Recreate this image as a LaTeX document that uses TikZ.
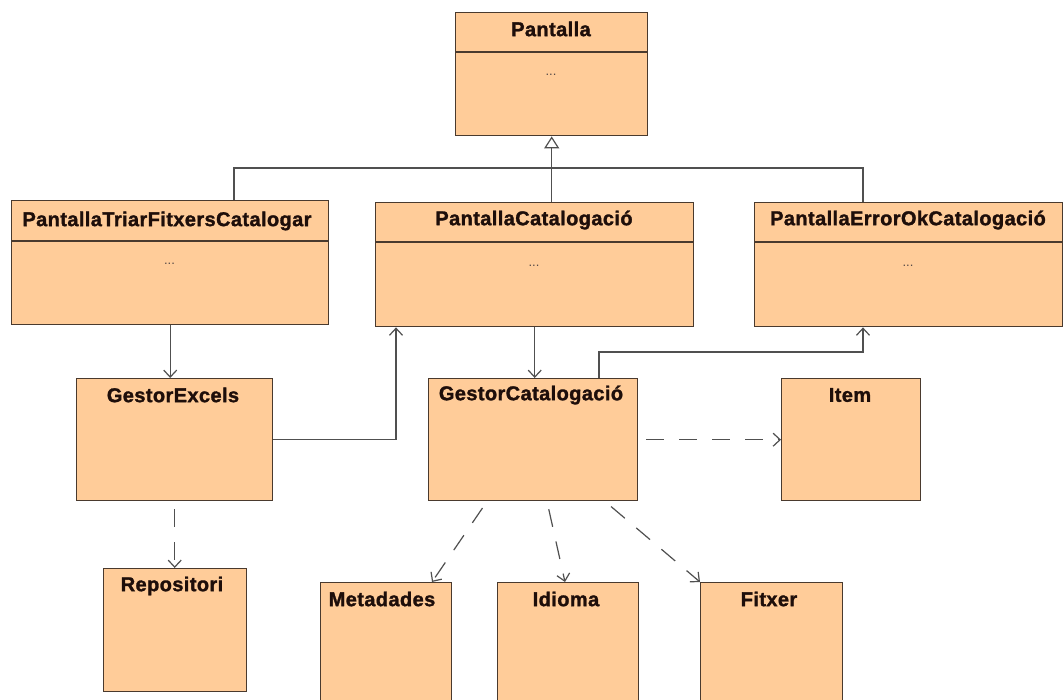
\documentclass[tikz,border=0pt]{standalone}
\usepackage{fontspec}
\setmainfont{Liberation Sans}
\newfontfamily\classfont[FakeBold=1.5, LetterSpace=2]{Liberation Sans Bold}
\usetikzlibrary{arrows.meta,calc}

\definecolor{classfill}{HTML}{FFCC99}
\definecolor{classedge}{HTML}{4A3A2E}
\definecolor{classtext}{HTML}{1E0E0A}
\definecolor{connline}{HTML}{505050}

\tikzset{
  classbox/.style={draw=classedge, fill=classfill, line width=1.4pt,
    rectangle, anchor=north west, inner sep=0pt},
  classname/.style={text=classtext, inner sep=0pt, anchor=center,
    font=\classfont\fontsize{20}{24}\selectfont},
  dots/.style={text=classtext!75, inner sep=0pt, font=\fontsize{13}{14}\selectfont},
  divider/.style={draw=classedge, line width=1.4pt},
  conn/.style={draw=connline, line width=1.2pt},
  navig/.style={conn, -{Straight Barb[length=7pt,width=13pt]}},
  depend/.style={conn, dash pattern=on 18pt off 15pt, shorten <=8pt,
    -{Straight Barb[length=7pt,width=13pt]}},
  generalize/.style={conn, -{Triangle[open,length=12pt,width=15pt,fill=white]}}
}

\begin{document}
\begin{tikzpicture}[x=1pt,y=-1pt]
\useasboundingbox (0,0) rectangle (1063,700);
\clip (0,0) rectangle (1063,700);
\fill[white] (0,0) rectangle (1063,700);

% classes with an operations compartment
\node[classbox, minimum width=192pt, minimum height=123pt] (pantalla) at (455,12) {};
\node[classname] (pantalla-t) at (551,29) {Pantalla};
\draw[divider] (455,52) -- (647,52);
\node[dots] (pantalla-d) at (551,75) {...};

\node[classbox, minimum width=317pt, minimum height=124pt] (ptf) at (11,200) {};
\node[classname] (ptf-t) at (167,221) {PantallaTriarFitxersCatalogar};
\draw[divider] (11,241) -- (328,241);
\node[dots] (ptf-d) at (169.5,264) {...};

\node[classbox, minimum width=318pt, minimum height=124pt] (pcat) at (375,202) {};
\node[classname] (pcat-t) at (534,220) {PantallaCatalogació};
\draw[divider] (375,242) -- (693,242);
\node[dots] (pcat-d) at (534,266) {...};

\node[classbox, minimum width=308pt, minimum height=124pt] (perr) at (754,202) {};
\node[classname] (perr-t) at (908,220) {PantallaErrorOkCatalogació};
\draw[divider] (754,242) -- (1062,242);
\node[dots] (perr-d) at (908,266) {...};

% single-compartment classes
\node[classbox, minimum width=196pt, minimum height=122pt] (ge) at (76,378) {};
\node[classname] (ge-t) at (173,395) {GestorExcels};

\node[classbox, minimum width=209pt, minimum height=122pt] (gc) at (428,378) {};
\node[classname] (gc-t) at (531,395) {GestorCatalogació};

\node[classbox, minimum width=139pt, minimum height=122pt] (item) at (781,378) {};
\node[classname] (item-t) at (850,395) {Item};

\node[classbox, minimum width=143pt, minimum height=123pt] (repo) at (103,568) {};
\node[classname] (repo-t) at (172,586) {Repositori};

\node[classbox, minimum width=131pt, minimum height=140pt] (meta) at (320,582) {};
\node[classname] (meta-t) at (382,599) {Metadades};

\node[classbox, minimum width=141pt, minimum height=140pt] (idioma) at (497,582) {};
\node[classname] (idioma-t) at (566,599) {Idioma};

\node[classbox, minimum width=142pt, minimum height=140pt] (fitxer) at (700,582) {};
\node[classname] (fitxer-t) at (769,599) {Fitxer};

% generalization tree
\coordinate (busl) at (234,168);
\coordinate (busr) at (863,168);
\draw[conn] (busl |- ptf.north) -- (busl) -- (busr) -- (busr |- perr.north);
\draw[generalize] (pantalla.south |- pcat.north) -- (pantalla.south);

% navigable associations
\draw[navig] (ptf.south) -- (ptf.south |- ge.north);
\coordinate (ge-up) at ($(pcat.south west)+(21,0)$);
\draw[navig] (ge.east) -| (ge-up);
\draw[navig] (pcat.south) -- (pcat.south |- gc.north);
\coordinate (gc-out) at ($(gc.north west)+(171,0)$);
\coordinate (perr-in) at ($(perr.south west)+(109,0)$);
\draw[navig] (gc-out) -- ++(0,-26) -| (perr-in);

% dependencies
\draw[depend] (gc.east) -- (item.west);
\draw[depend] (ge.south) -- (ge.south |- repo.north);
\coordinate (gc-m) at ($(gc.south west)+(59,0)$);
\coordinate (gc-i) at ($(gc.south west)+(119,0)$);
\coordinate (gc-f) at ($(gc.south west)+(177,0)$);
\coordinate (meta-in) at ($(meta.north west)+(112,0)$);
\coordinate (idioma-in) at ($(idioma.north west)+(68,0)$);
\draw[depend] (gc-m) -- (meta-in);
\draw[depend] (gc-i) -- (idioma-in);
\draw[depend] (gc-f) -- (fitxer.north west);
\end{tikzpicture}
\end{document}
